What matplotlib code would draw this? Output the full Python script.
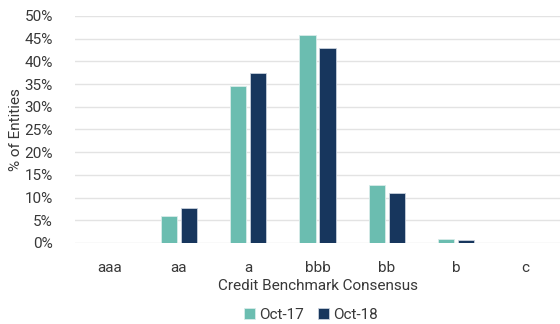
import numpy as np
import matplotlib.pyplot as plt
from matplotlib.ticker import PercentFormatter

plt.rcParams['font.family'] = ['Roboto', 'DejaVu Sans']

categories = ['aaa', 'aa', 'a', 'bbb', 'bb', 'b', 'c']
oct17 = [0.0, 5.9, 34.5, 45.9, 12.8, 0.9, 0.0]
oct18 = [0.0, 7.8, 37.4, 42.9, 11.0, 0.7, 0.0]

teal = '#6bbdb0'
navy = '#17365d'
txt = '#383838'

fig = plt.figure(figsize=(5.6, 3.24), dpi=100)
ax = fig.add_axes([0.134, 0.25, 0.866, 0.701])

x = np.arange(len(categories))
w = 0.235
off = 0.143
ax.bar(x - off, oct17, w, color=teal, edgecolor='#d8ecea', linewidth=0.6,
       label='Oct-17', zorder=3)
ax.bar(x + off, oct18, w, color=navy, edgecolor='#c8d0dc', linewidth=0.6,
       label='Oct-18', zorder=3)

ax.set_xlim(-0.5, len(categories) - 0.5)
ax.set_ylim(0, 50)
ax.set_yticks(np.arange(0, 51, 5))
ax.yaxis.set_major_formatter(PercentFormatter(decimals=0))
ax.set_xticks(x)
ax.set_xticklabels(categories)
ax.grid(axis='y', color='#e3e3e3', linewidth=1, zorder=0)
for s in ax.spines.values():
    s.set_visible(False)
ax.tick_params(axis='both', length=0, labelsize=11, colors=txt)
ax.tick_params(axis='x', pad=13)
ax.tick_params(axis='y', pad=16)

ax.set_xlabel('Credit Benchmark Consensus', fontsize=11, color=txt, labelpad=3)
ax.set_ylabel('% of Entities', fontsize=11, color=txt, labelpad=1)

ax.legend(loc='upper center', bbox_to_anchor=(0.487, -0.225), ncol=2, frameon=False,
          fontsize=11, handlelength=0.7, handleheight=0.7, handletextpad=0.3,
          columnspacing=0.9, labelcolor=txt)

fig.savefig('out.png', dpi=100)
